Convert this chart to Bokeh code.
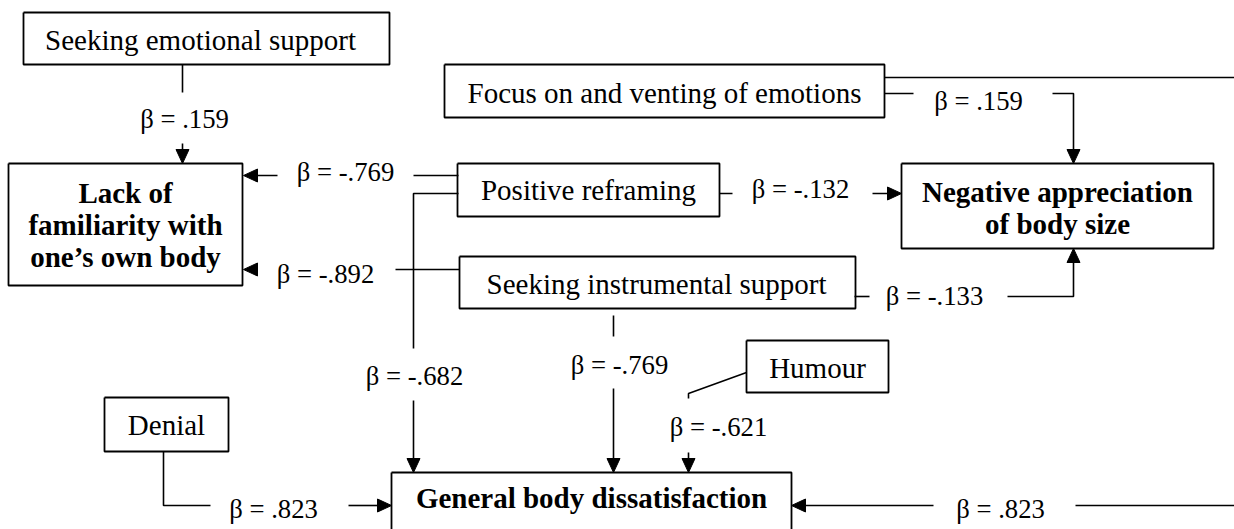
from bokeh.plotting import figure
from bokeh.models import Range1d
from bokeh.core.properties import value
from bokeh.embed import file_html
from bokeh.resources import INLINE

# ---------------- data (texts and coefficients) ----------------
predictor_names = ["Seeking emotional support", "Focus on and venting of emotions",
                   "Positive reframing", "Seeking instrumental support", "Humour", "Denial"]
outcome_lines = [["Lack of", "familiarity with", "one\u2019s own body"],
                 ["Negative appreciation", "of body size"],
                 ["General body dissatisfaction"]]
beta_values = [".159", "-.769", "-.892", ".159", "-.132", "-.133",
               "-.769", "-.682", "-.621", ".823", ".823"]

# ---------------- layout (reference pixel coordinates, y downward) ----------------
pred_boxes = [(23, 389, 12, 64), (444, 884, 64, 117), (457, 719, 163, 216),
              (459, 855, 256, 308), (746, 888, 340, 392), (104, 228, 397, 451)]
pred_text_pos = [(200, 49), (664, 102), (588, 199), (656, 293), (817, 377), (166, 434)]
out_boxes = [(8, 242, 163, 285), (901, 1213, 163, 248), (391, 791, 472, 540)]
out_text_pos = [[(125, 202), (125, 234), (125, 266)],
                [(1057, 201), (1057, 233)],
                [(591, 507)]]
beta_pos = [(184, 128), (345, 181), (325, 283), (978, 110), (800, 198), (934, 305),
            (619, 374), (414, 385), (718, 436), (273, 518), (1000, 518)]
TEXT_SHIFT = 10  # renderer places alphabetic baseline slightly low

lines = [
    [(182, 64), (182, 92)],
    [(182, 143), (182, 150)],
    [(884, 77), (1240, 77)],
    [(884, 93), (913, 93)],
    [(1052, 93), (1073, 93), (1073, 150)],
    [(458, 175), (413, 175)],
    [(277, 175), (256, 175)],
    [(458, 193), (413, 193), (413, 348)],
    [(413, 400), (413, 459)],
    [(719, 193), (732, 193)],
    [(872, 193), (888, 193)],
    [(459, 269), (395, 269)],
    [(854, 296), (869, 296)],
    [(1007, 296), (1073, 296), (1073, 261)],
    [(613, 315), (613, 336)],
    [(613, 388), (613, 459)],
    [(746, 372), (688, 393), (688, 398)],
    [(688, 452), (688, 459)],
    [(163, 451), (163, 505), (210, 505)],
    [(348, 505), (378, 505)],
    [(1075, 505), (1240, 505)],
    [(933, 505), (804, 505)],
]
heads = [((182, 163), "down"), ((1073, 163), "down"), ((243, 175), "left"),
         ((413, 472), "down"), ((901, 193), "right"), ((243, 269), "left"),
         ((1073, 248), "up"), ((613, 472), "down"), ((688, 472), "down"),
         ((391, 505), "right"), ((791, 505), "left")]

H = 529


def Y(y):
    return H - y


def TY(y):
    return H - (y - TEXT_SHIFT)


p = figure(width=1234, height=529, x_range=Range1d(0, 1234), y_range=Range1d(0, 529),
           output_backend="svg", toolbar_location=None, min_border=0,
           background_fill_color="white", border_fill_color="white")
p.axis.visible = False
p.grid.visible = False
p.outline_line_color = None

# boxes as closed outlines
bx, by = [], []
for (l, r, t, b) in pred_boxes + out_boxes:
    bx.append([l, r, r, l, l])
    by.append([Y(t), Y(t), Y(b), Y(b), Y(t)])
p.multi_line(bx, by, line_color="black", line_width=1.8)

# connector lines
p.multi_line([[pt[0] for pt in ln] for ln in lines],
             [[Y(pt[1]) for pt in ln] for ln in lines],
             line_color="black", line_width=1.6)

# arrow heads
L, W = 14, 6.5
hx, hy = [], []
for (tx, ty), d in heads:
    if d == "down":
        pts = [(tx, ty), (tx - W, ty - L), (tx + W, ty - L)]
    elif d == "up":
        pts = [(tx, ty), (tx - W, ty + L), (tx + W, ty + L)]
    elif d == "left":
        pts = [(tx, ty), (tx + L, ty - W), (tx + L, ty + W)]
    else:
        pts = [(tx, ty), (tx - L, ty - W), (tx - L, ty + W)]
    hx.append([q[0] for q in pts])
    hy.append([Y(q[1]) for q in pts])
p.patches(hx, hy, fill_color="black", line_color="black", line_width=1)

font = value("Liberation Serif")

# predictor texts
p.text(x=[q[0] for q in pred_text_pos], y=[TY(q[1]) for q in pred_text_pos],
       text=predictor_names, text_font=font, text_font_size=value("29px"),
       text_align="center", text_baseline="alphabetic", text_color="black")

# outcome texts (bold)
ox, oy, ot = [], [], []
for names, poss in zip(outcome_lines, out_text_pos):
    for n, (x, y) in zip(names, poss):
        ox.append(x)
        oy.append(TY(y))
        ot.append(n)
p.text(x=ox, y=oy, text=ot, text_font=font, text_font_size=value("29px"),
       text_font_style="bold", text_align="center", text_baseline="alphabetic",
       text_color="black")

# beta labels
p.text(x=[q[0] for q in beta_pos], y=[TY(q[1]) for q in beta_pos],
       text=["\u03b2 = " + b for b in beta_values], text_font=font,
       text_font_size=value("26.7px"), text_align="center",
       text_baseline="alphabetic", text_color="black")

open("out.html", "w").write(file_html(p, INLINE))
